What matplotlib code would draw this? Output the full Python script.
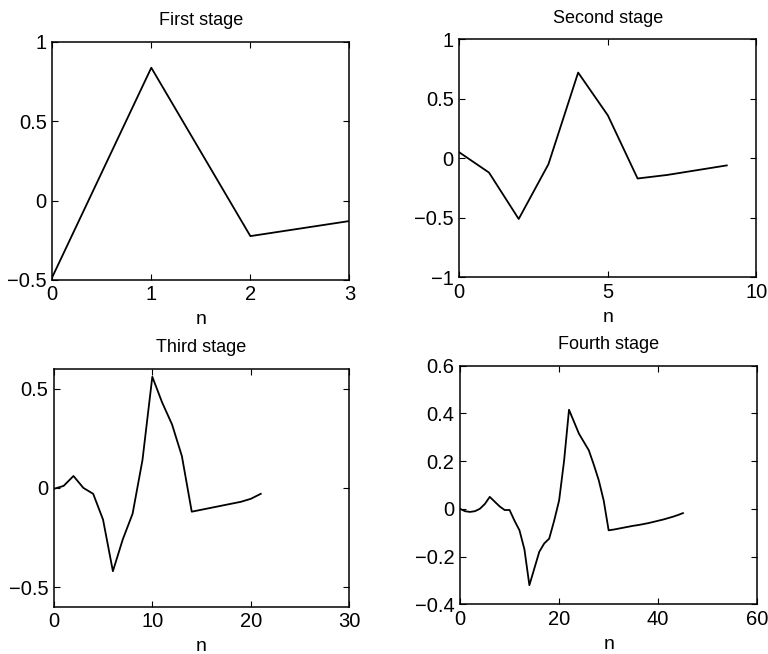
import matplotlib.pyplot as plt

plt.rcParams['font.family'] = ['Liberation Sans', 'DejaVu Sans']

# Stage values
stage1 = [-0.483, 0.837, -0.224, -0.129]

stage2 = [0.05, -0.12, -0.51, -0.05, 0.72, 0.36, -0.17, -0.14, -0.10, -0.06]

stage3 = [-0.005, 0.01, 0.06, 0.0, -0.03, -0.16, -0.42, -0.26, -0.13, 0.14,
          0.56, 0.43, 0.32, 0.16, -0.12, -0.11, -0.10, -0.09, -0.08, -0.07,
          -0.055, -0.03]

stage4 = [0.0, -0.01, -0.013, -0.01, 0.0, 0.02, 0.05, 0.03, 0.01, -0.005,
          -0.005, -0.05, -0.09, -0.17, -0.32, -0.25, -0.18, -0.145, -0.125, -0.05,
          0.035, 0.20, 0.415, 0.365, 0.315, 0.28, 0.245, 0.185, 0.12, 0.035,
          -0.09, -0.087, -0.083, -0.079, -0.075, -0.071, -0.068, -0.064, -0.06, -0.055,
          -0.05, -0.045, -0.039, -0.033, -0.026, -0.018]

titles = ["First stage", "Second stage", "Third stage", "Fourth stage"]
xlims = [(0, 3), (0, 10), (0, 30), (0, 60)]
ylims = [(-0.5, 1), (-1, 1), (-0.6, 0.6), (-0.4, 0.6)]
xticks = [[0, 1, 2, 3], [0, 5, 10], [0, 10, 20, 30], [0, 20, 40, 60]]
yticks = [[-0.5, 0, 0.5, 1], [-1, -0.5, 0, 0.5, 1], [-0.5, 0, 0.5],
          [-0.4, -0.2, 0, 0.2, 0.4, 0.6]]
ytick_labels = [["-0.5", "0", "0.5", "1"], ["-1", "-0.5", "0", "0.5", "1"],
                ["-0.5", "0", "0.5"], ["-0.4", "-0.2", "0", "0.2", "0.4", "0.6"]]

fig = plt.figure(figsize=(7.68, 6.54), dpi=100)
positions = [
    [0.068, 0.572, 0.387, 0.364],
    [0.598, 0.576, 0.387, 0.364],
    [0.070, 0.072, 0.385, 0.364],
    [0.599, 0.076, 0.387, 0.365],
]

for i, data in enumerate([stage1, stage2, stage3, stage4]):
    ax = fig.add_axes(positions[i])
    ax.plot(range(len(data)), data, color="black", linewidth=1.3)
    ax.set_xlim(*xlims[i])
    ax.set_ylim(*ylims[i])
    ax.set_xticks(xticks[i])
    ax.set_xticklabels([str(t) for t in xticks[i]])
    ax.set_yticks(yticks[i])
    ax.set_yticklabels([s.replace("-", "\u2212") for s in ytick_labels[i]])
    ax.tick_params(direction="in", length=4, width=0.8, top=True, right=True,
                   labelsize=14.5)
    ax.tick_params(axis="x", pad=4)
    ax.tick_params(axis="y", pad=4)
    ax.set_title(titles[i], fontsize=13, pad=12)
    ax.set_xlabel("n", fontsize=14, labelpad=5)
    for s in ax.spines.values():
        s.set_linewidth(1.1)

fig.savefig("out.png", dpi=100)
